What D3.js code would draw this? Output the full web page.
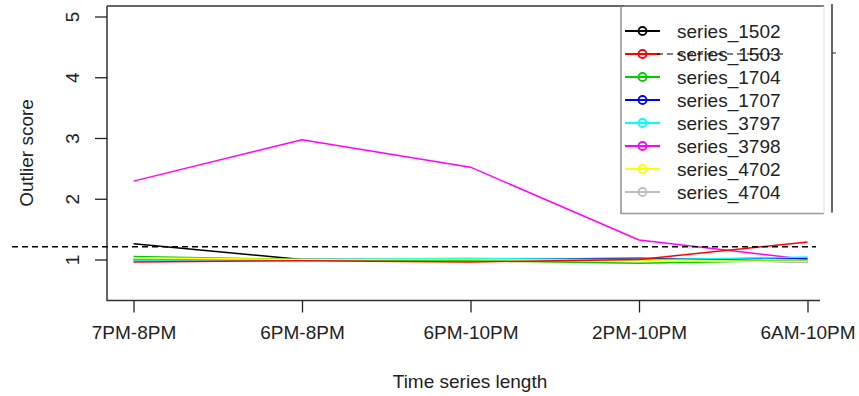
<!DOCTYPE html>
<html>
<head>
<meta charset="utf-8">
<script src="https://cdn.jsdelivr.net/npm/d3@7"></script>
<style>
  body { margin: 0; background: #fff; }
  svg { display: block; font-family: "Liberation Sans", Arial, sans-serif; }
</style>
</head>
<body>
<div id="chart"></div>
<script>
var categories = ['7PM-8PM', '6PM-8PM', '6PM-10PM', '2PM-10PM', '6AM-10PM'];
var seriesNames = ['series_1502', 'series_1503', 'series_1704', 'series_1707',
                   'series_3797', 'series_3798', 'series_4702', 'series_4704'];
var seriesColors = ['#000000', '#ff0000', '#00cd00', '#0000ff',
                    '#00ffff', '#ff00ff', '#ffff00', '#bebebe'];
var s1502 = [1.26, 1.00, 1.00, 1.02, 0.96];
var s1503 = [0.96, 0.98, 0.96, 1.00, 1.29];
var s1704 = [1.05, 1.00, 0.98, 0.94, 0.99];
var s1707 = [1.00, 1.00, 1.01, 1.00, 1.02];
var s3797 = [0.99, 1.00, 1.02, 0.99, 1.04];
var s3798 = [2.29, 2.97, 2.52, 1.32, 1.00];
var s4702 = [1.03, 1.00, 1.00, 0.98, 0.97];
var s4704 = [0.98, 0.99, 0.99, 1.01, 0.95];
var yTicks = [1, 2, 3, 4, 5];
var threshold = 1.21;

var seriesValues = [s1502, s1503, s1704, s1707, s3797, s3798, s4702, s4704];

var width = 859, height = 396;
var box = {left: 107, top: 6, right: 820, bottom: 300.5};

var svg = d3.select('#chart').append('svg')
    .attr('width', width)
    .attr('height', height);

var x = d3.scalePoint()
    .domain(categories)
    .range([133.5, 807.5]);

var y = d3.scaleLinear()
    .domain([1, 5])
    .range([259.5, 16.5]);

// plot frame (left, top, bottom only)
svg.append('path')
    .attr('d', 'M' + box.left + ',' + box.top + 'H624 M' + box.left + ',' + box.top +
               'V' + box.bottom + 'H' + box.right)
    .attr('fill', 'none')
    .attr('stroke', '#333')
    .attr('stroke-width', 1.5);

// y axis
var yAxis = svg.append('g')
    .attr('transform', 'translate(' + box.left + ',0)')
    .call(d3.axisLeft(y).tickValues(yTicks).tickSize(12).tickPadding(22).tickFormat(d3.format('d')));
yAxis.select('.domain').remove();
yAxis.selectAll('line').attr('stroke', '#222').attr('stroke-width', 1.3);
yAxis.selectAll('text')
    .attr('font-size', 19)
    .attr('fill', '#222')
    .attr('x', null).attr('dy', null)
    .attr('text-anchor', 'middle')
    .attr('transform', 'translate(-35,0) rotate(-90)')
    .attr('dominant-baseline', 'central');

// x axis
var xAxis = svg.append('g')
    .attr('transform', 'translate(0,' + box.bottom + ')')
    .call(d3.axisBottom(x).tickSize(12).tickPadding(20));
xAxis.select('.domain').remove();
xAxis.selectAll('line').attr('stroke', '#222').attr('stroke-width', 1.3);
xAxis.selectAll('text').attr('font-size', 19).attr('fill', '#222').attr('dy', '0.35em');

// axis titles
svg.append('text')
    .attr('x', 470).attr('y', 388)
    .attr('text-anchor', 'middle')
    .attr('font-size', 19).attr('fill', '#222')
    .text('Time series length');
svg.append('text')
    .attr('transform', 'translate(33,153) rotate(-90)')
    .attr('text-anchor', 'middle')
    .attr('font-size', 19).attr('fill', '#222')
    .text('Outlier score');

// series lines
var line = d3.line()
    .x(function(d, i) { return x(categories[i]); })
    .y(function(d) { return y(d); });

var order = [5, 0, 7, 3, 4, 2, 6, 1];
svg.append('g').selectAll('path')
    .data(order)
    .enter().append('path')
    .attr('d', function(k) { return line(seriesValues[k]); })
    .attr('fill', 'none')
    .attr('stroke', function(k) { return seriesColors[k]; })
    .attr('stroke-width', 1.5);

// threshold
svg.append('line')
    .attr('x1', 12).attr('x2', 816)
    .attr('y1', y(threshold)).attr('y2', y(threshold))
    .attr('stroke', '#000')
    .attr('stroke-width', 1.3)
    .attr('stroke-dasharray', '6,4');

// legend
var lg = svg.append('g');
lg.append('rect')
    .attr('x', 621).attr('y', 6)
    .attr('width', 203).attr('height', 207.5)
    .attr('fill', '#fff')
    .attr('stroke', 'none');
lg.append('path')
    .attr('d', 'M621,6V213.5H824')
    .attr('fill', 'none').attr('stroke', '#999').attr('stroke-width', 1.6);
lg.append('path')
    .attr('d', 'M621,6H824')
    .attr('fill', 'none').attr('stroke', '#555').attr('stroke-width', 1.5);
lg.append('path')
    .attr('d', 'M824,6V213.5')
    .attr('fill', 'none').attr('stroke', '#ddd').attr('stroke-width', 1);

var ly = d3.scalePoint().domain(seriesNames).range([31, 192]);
var item = lg.selectAll('g.item')
    .data(seriesNames)
    .enter().append('g')
    .attr('class', 'item')
    .attr('transform', function(d) { return 'translate(0,' + ly(d) + ')'; });
item.append('line')
    .attr('x1', 625).attr('x2', 660)
    .attr('stroke', function(d, i) { return seriesColors[i]; })
    .attr('stroke-width', 2);
item.append('circle')
    .attr('cx', 642.5).attr('r', 4)
    .attr('fill', 'none')
    .attr('stroke', function(d, i) { return seriesColors[i]; })
    .attr('stroke-width', 1.8);
item.append('text')
    .attr('x', 677).attr('dy', '0.35em')
    .attr('font-size', 19).attr('fill', '#222')
    .text(function(d) { return d; });

// stray dashed line over legend and right marker
svg.append('line')
    .attr('x1', 657).attr('x2', 783)
    .attr('y1', ly('series_1503')).attr('y2', ly('series_1503'))
    .attr('stroke', '#000').attr('stroke-width', 1.2)
    .attr('stroke-dasharray', '6,4');
svg.append('line')
    .attr('x1', 832).attr('x2', 832)
    .attr('y1', 4).attr('y2', 212.5)
    .attr('stroke', '#111').attr('stroke-width', 1.3);
svg.append('line')
    .attr('x1', 832).attr('x2', 836)
    .attr('y1', 53).attr('y2', 53)
    .attr('stroke', '#333').attr('stroke-width', 1);
</script>
</body>
</html>
